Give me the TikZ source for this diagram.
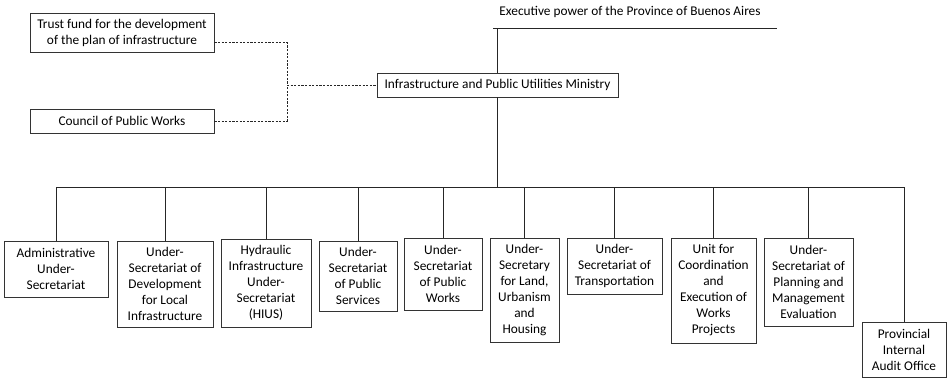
\documentclass[tikz,border=0pt]{standalone}
\usepackage{fontspec}
\setmainfont{Carlito}
\usetikzlibrary{calc}
\begin{document}
\begin{tikzpicture}[x=0.75pt,y=-0.75pt,
  lbl/.style={inner sep=0pt, align=center, font=\fontsize{10}{12}\selectfont},
  box/.style 2 args={lbl, draw=black!80, line width=0.6pt,
    minimum width=#1*0.75pt, minimum height=#2*0.75pt},
  link/.style={draw=black!85, line width=0.6pt},
  dlink/.style={link, dash pattern=on 1.6pt off 1.1pt}]
\useasboundingbox (0,0) rectangle (948,379);

% top level
\node[lbl] (exec) at (630,12) {Executive power of the Province of Buenos Aires};
\coordinate (execl) at (493,28);
\coordinate (execr) at (777,28);
\node[box={241}{24}] (min) at (497.5,85) {Infrastructure and Public Utilities Ministry};

% bodies attached to the ministry
\node[box={184}{39}] (trust) at (122,32.5) {Trust fund for the development\\of the plan of infrastructure};
\node[box={184}{24}] (council) at (122,121) {Council of Public Works};

% dependent units
\node[box={104}{56}]  (adm)   at (56,269)    {Administrative\\Under-\\Secretariat};
\node[box={96}{86}]   (dev)   at (165,284)   {Under-\\Secretariat of\\Development\\for Local\\Infrastructure};
\node[box={90}{88}]   (hyd)   at (266,283)   {Hydraulic\\Infrastructure\\Under-\\Secretariat\\(HIUS)};
\node[box={78}{70}]   (pser)  at (358,276)   {Under-\\Secretariat\\of Public\\Services};
\node[box={78}{72}]   (pwor)  at (443,274)   {Under-\\Secretariat\\of Public\\Works};
\node[box={69}{104}]  (land)  at (524.5,290) {Under-\\Secretary\\for Land,\\Urbanism\\and\\Housing};
\node[box={95}{56}]   (trans) at (614.5,266) {Under-\\Secretariat of\\Transportation};
\node[box={85}{105}]  (unit)  at (713.5,290.5) {Unit for\\Coordination\\and\\Execution of\\Works\\Projects};
\node[box={89}{88}]   (plan)  at (808.5,282) {Under-\\Secretariat of\\Planning and\\Management\\Evaluation};
\node[box={84}{55}]   (audit) at (904,350)   {Provincial\\Internal\\Audit Office};

% connectors
\coordinate (bus) at (497.5,187);
\coordinate (join) at (287,85);
\coordinate (trustport) at ($(trust.south east)+(0,-10)$);

\draw[link] (execl) -- (execr);
\draw[link] (min.north |- execl) -- (min.north);
\draw[link] (min.south) -- (bus);

\draw[dlink] (trustport) -| (join);
\draw[dlink] (council.east) -| (join);
\draw[dlink] (join) -- (min.west);

\draw[link] (adm.north) -- (adm.north |- bus) -- (audit.north |- bus) -- (audit.north);
\foreach \n in {dev,hyd,pser,pwor,land,trans,unit,plan}
  \draw[link] (\n.north) -- (\n.north |- bus);
\end{tikzpicture}
\end{document}
